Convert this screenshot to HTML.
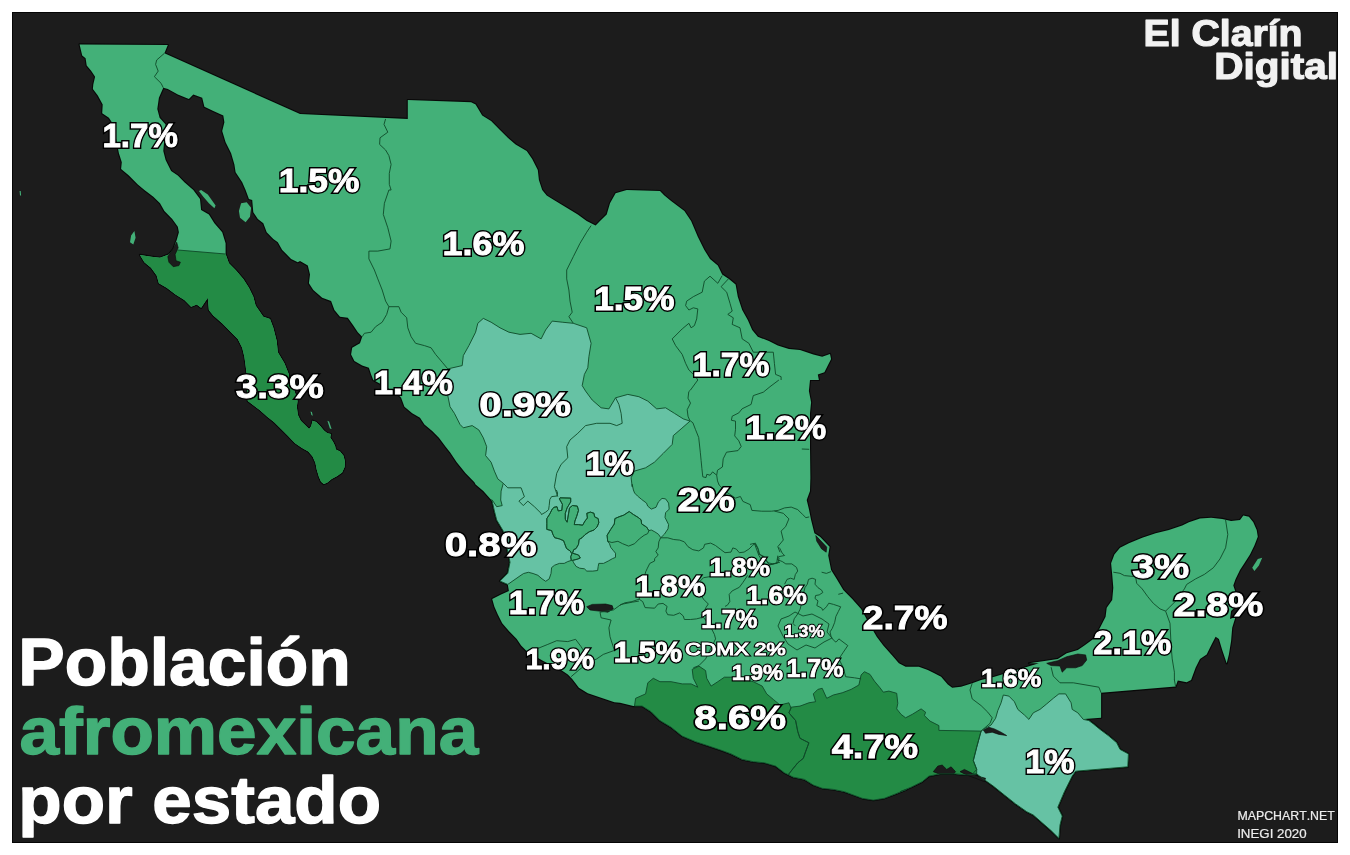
<!DOCTYPE html>
<html lang="es">
<head>
<meta charset="utf-8">
<title>Población afromexicana por estado</title>
<style>
html,body{margin:0;padding:0;background:#fff;}
body{width:1350px;height:855px;overflow:hidden;font-family:"Liberation Sans",Arial,Helvetica,sans-serif;}
svg{display:block;}
svg text{font-family:"Liberation Sans",Arial,Helvetica,sans-serif;font-weight:700;stroke-linejoin:round;font-kerning:none;}
.lb text{fill:#fff;stroke-linejoin:miter;stroke-miterlimit:2.5;}
</style>
</head>
<body>
<svg width="1350" height="855" viewBox="0 0 1350 855" role="img" aria-label="Población afromexicana por estado">
<rect x="12.5" y="12.5" width="1325" height="830" fill="#1c1c1c" stroke="#050505" stroke-width="1"/>
<g stroke-linejoin="round">
<path fill="none" stroke="#080808" stroke-width="2.2" d="M79.6,44.4 167.8,45.1 164.4,53.3 300,114 407.8,118.9 407.8,100 471.1,102.2 475.6,104.4 482.2,115.6 491.1,121.1 500,130 507.8,137.8 515.6,144.4 526.7,151.1 532.2,158.9 537.8,170 538.9,180 542.2,190 546.7,195.6 555.6,201.1 566.7,207.8 577.8,214.4 586.7,221.1 595.6,225.6 600,221.1 606.7,214.4 610,203.3 615.6,193.3 626.7,190 660,191.1 664.4,195.6 671.1,201.1 684.4,211.1 691.1,221.1 697.8,236.7 704.4,250 710,258.9 717.8,265.6 722.2,274.4 728.9,278.9 735.6,284.4 737.8,296.7 742.2,310 747.8,320 752.2,330 757.8,336.7 768.9,341.1 777.8,345.6 788.9,348.9 800,350 813.3,354.4 822.2,356.7 830,354 831.1,358.9 827.8,365.6 824.4,372.2 817.8,374.4 818.9,380 810,380 808.9,391.1 811.1,402.2 810,413.3 810,446.7 810.4,477.8 810,491.1 806.7,500 808.9,508.9 811.1,520 814.4,533.3 820,536.7 829.6,546.7 828.2,555.6 831.1,570 836.7,578.9 843.3,590 852.2,598.9 861.1,608.9 868.9,623.3 876.7,636.7 883.3,645.6 892.2,655.6 898.9,663.3 905.6,666.7 918.9,666.7 927.8,670 934.4,673.3 941.1,676.7 947.8,684.4 952.2,687.8 961.1,686.7 972.2,683.3 981.1,680 994.4,676.7 1016.7,670 1038.9,663.3 1028.9,663.3 1044.4,661.1 1057.8,658.9 1066.7,653.3 1077.8,650 1084.4,645.6 1093.3,638.9 1100,627.8 1105.6,616.7 1106.7,607.8 1112.2,600 1113.3,587.8 1112.2,574.4 1111.1,563.3 1114.4,554.4 1120,547.8 1128.9,543.3 1142.2,537.8 1155.6,533.3 1168.9,530 1182.2,525.6 1188.9,522.2 1200,518.4 1211.1,517.8 1222.2,518.9 1231.1,521.1 1240,520 1243.3,515.6 1248.9,516.7 1253.3,522.2 1256.7,530 1257.8,536.7 1254.4,545.6 1250,554.4 1244.4,563.3 1240,570 1235.6,578.9 1233.3,585.6 1235.6,592.2 1236.7,605.6 1231.1,611.1 1230,618.9 1235.6,616.7 1232.2,627.8 1231.1,641.1 1228.9,654.4 1226.7,663.3 1222.2,650 1218.9,638.9 1215.6,636.7 1211.1,645.6 1206.7,654.4 1200,658.9 1195.6,667.8 1191.1,680 1191.1,679.9 1186.7,682.3 1177.8,680.6 1175.6,686.6 1101.1,692.8 1101.1,717.7 1084.4,719 1088.9,720.6 1093.3,723.9 1100,729.4 1108.9,736.1 1116.7,742.8 1120,749.4 1128.4,753.9 1127.8,766.8 1075.6,771.2 1072.2,776.1 1064.4,791.7 1057.8,807.2 1062.2,816.1 1060,825 1058.9,838.3 1051.1,830.6 1042.2,822.8 1033.3,815 1026.7,811.7 1015.6,803.9 1004.4,795 993.3,786.1 985.6,780.6 976.7,773.9 966.7,775 955.6,773.9 940,773.9 928.9,776.1 922.2,781.7 911.1,787.2 900,791.7 906.7,789.4 895.6,793.9 884.4,798.3 873.3,800.1 862.2,798.3 853.3,795 844.4,791.7 833.3,789.4 822.2,788.3 813.3,785 804.4,779.4 793.3,777.2 784.4,772.8 775.6,766.1 764.4,762.8 753.3,761.7 742.2,759.4 731.1,753.9 722.2,750.6 708.9,746.1 695.6,741.7 682.2,736.1 671.1,727.2 660,720.6 651.1,711.7 642.2,706.1 633.3,706.1 620,702.8 614.4,702.2 601.1,697.8 587.8,693.3 578.9,687.8 572.2,678.9 567.8,674.4 561.1,670 543.3,661.1 527.8,652.2 521.1,645.6 516.7,638.9 508.9,631.1 502.2,623.3 497.8,614.4 494.4,606.7 492.2,598.9 501.1,594.4 508.9,591.1 507.8,584.4 500,581.1 507.8,573.3 510,562.2 506.7,546.7 503.3,531.1 496.7,520 494.4,511.1 492.2,501.1 483.3,491.1 475.6,484.4 474.4,482.2 465.6,473.3 456.7,462.2 450,452.2 445.6,446.7 438.9,437.8 432.2,431.1 424.4,424.4 420,417.8 412.2,413.3 404.4,406.7 401.1,397.8 396.7,393.3 383.3,385.6 373.3,380 371.1,374.4 368.9,367.8 362.2,365.6 354.4,361.1 351.1,354.4 352.2,347.8 360,343.3 362.2,336.7 357.8,332.2 353.3,325.6 347.8,317.8 340,316.7 334.4,310 331.1,301.1 322.2,297.8 313.3,290 308.9,283.3 310,274.4 307.8,265.6 300,261.1 297.8,262.2 291.1,258.9 282.2,250 277.8,242.2 273.3,238.9 266.7,232.2 263.3,223.3 257.8,218.9 253.3,212.2 252.2,200 248.9,198.9 245.6,190 242.2,182.2 235.6,172.2 234.4,164.4 231.1,153.3 225.6,142.2 222.2,131.1 224.4,122.2 223.3,115.6 213.3,111.1 204.4,106.7 202.2,97.8 193.3,94.4 188.9,98.9 177.8,94.4 167.8,88.9 163.3,87.8 158.9,97.8 157.3,108.9 159.6,117.8 165.6,124.4 163.3,151.1 165.6,160 171.1,171.1 177.8,175.6 184.4,182.2 193.3,190 200,198.9 201.1,210 208.9,214.4 214.4,223.3 222.2,232.2 225.6,243.3 225.6,254 228.9,263.3 235.6,270 243.3,278.9 248.9,287.8 253.3,296.7 255.6,305.6 263.3,316.7 270,318.9 273.3,327.8 276.7,341.1 277.8,352.2 284.4,363.3 288.9,374.4 288.9,380 294.4,390.5 297.6,401.1 296.8,406.7 297.9,415.1 300.7,420.7 306.3,426.3 309.1,429.1 311.2,426.3 312.6,420.7 316.1,422.1 320.4,426.3 323.9,430.5 327.4,433.3 330.9,434 330.2,437.5 333,441.8 335.1,446 335.8,449.5 340,451.6 343.5,455.8 344.9,461.4 344.6,467 342.1,472.6 337.2,476.1 331.6,478.9 327.4,482.5 323.9,484.1 321.1,481.8 318.9,476.8 316.8,469.8 315.4,462.8 312.6,456.5 308.4,451.6 302.1,448.1 295.1,443.2 288.1,436.1 281.1,429.1 274,422.1 267,416.5 260,410.2 247.8,401.1 247.1,380 246.7,374.4 245.6,365.6 244.4,356.7 242.2,347.8 237.8,338.9 231.1,332.2 222.2,323.3 213.3,315.6 208.9,310 207.8,297.8 201.1,307.8 196.7,304.4 191.1,306.7 184.4,300 175.6,294.4 166.7,287.8 158.9,283.3 156.7,275.6 151.1,267.8 144.4,262.2 140,254.9 151.1,256.7 160,257.8 168.9,254.4 173.3,248.9 176.7,240 178.9,232.2 177.8,226.7 172.2,218.9 164.4,211.1 160,203.3 153.3,196.7 144.4,190 137.8,184.4 128.9,175.6 121.1,168.9 121.8,162.2 118.9,153.3 113.3,124.4 108.9,117.8 102.2,113.3 102.7,104.4 97.8,95.6 92.9,88.9 93.3,84.4 95.1,76.7 91.1,70.7 86.7,65.6 85.6,58.2 82.2,55.6Z"/>
<path fill="#43b078" d="M20.7,191.1 19.6,191.1 20,195.6 21.1,195.6ZM208.9,203.3 214.4,208.2 215.6,205.6 207.8,194.4 201.1,190 198.9,191.1 203.3,196.7ZM245.6,222.2 250,216.7 251.1,207.8 246.7,202.2 241.1,203.3 238.9,211.1 240,217.8ZM134.4,231.1 131.1,235.6 130,242.2 133.3,244.4 135.6,237.8ZM311.9,412 310.5,411.6 311.4,415.1 312.8,415.8ZM329.1,421.4 327.4,420.7 329.9,428.4 331.6,429.1ZM86.7,65.6 91.1,70.7 95.1,76.7 93.3,84.4 92.9,88.9 97.8,95.6 102.7,104.4 102.2,113.3 108.9,117.8 113.3,124.4 118.9,153.3 121.8,162.2 121.1,168.9 128.9,175.6 137.8,184.4 144.4,190 153.3,196.7 160,203.3 164.4,211.1 172.2,218.9 177.8,226.7 178.9,232.2 176.7,240 173.3,248.9 168.9,254.4 160,257.8 151.1,256.7 140,254.9 144.4,262.2 151.1,267.8 156.7,275.6 158.9,283.3 166.7,287.8 175.6,294.4 184.4,300 191.1,306.7 196.7,304.4 201.1,307.8 207.8,297.8 208.9,310 213.3,315.6 222.2,323.3 231.1,332.2 237.8,338.9 242.2,347.8 244.4,356.7 245.6,365.6 246.7,374.4 247.1,380 247.8,401.1 260,410.2 267,416.5 274,422.1 281.1,429.1 288.1,436.1 295.1,443.2 302.1,448.1 308.4,451.6 312.6,456.5 315.4,462.8 316.8,469.8 318.9,476.8 321.1,481.8 323.9,484.1 327.4,482.5 331.6,478.9 337.2,476.1 342.1,472.6 344.6,467 344.9,461.4 343.5,455.8 340,451.6 335.8,449.5 335.1,446 333,441.8 330.2,437.5 330.9,434 327.4,433.3 323.9,430.5 320.4,426.3 316.1,422.1 312.6,420.7 311.2,426.3 309.1,429.1 306.3,426.3 300.7,420.7 297.9,415.1 296.8,406.7 297.6,401.1 294.4,390.5 288.9,380 288.9,374.4 284.4,363.3 277.8,352.2 276.7,341.1 273.3,327.8 270,318.9 263.3,316.7 255.6,305.6 253.3,296.7 248.9,287.8 243.3,278.9 235.6,270 228.9,263.3 225.6,254 225.6,243.3 222.2,232.2 214.4,223.3 208.9,214.4 201.1,210 200,198.9 193.3,190 184.4,182.2 177.8,175.6 171.1,171.1 165.6,160 163.3,151.1 165.6,124.4 159.6,117.8 157.3,108.9 158.9,97.8 163.3,87.8 167.8,88.9 177.8,94.4 188.9,98.9 193.3,94.4 202.2,97.8 204.4,106.7 213.3,111.1 223.3,115.6 224.4,122.2 222.2,131.1 225.6,142.2 231.1,153.3 234.4,164.4 235.6,172.2 242.2,182.2 245.6,190 248.9,198.9 252.2,200 253.3,212.2 257.8,218.9 263.3,223.3 266.7,232.2 273.3,238.9 277.8,242.2 282.2,250 291.1,258.9 297.8,262.2 300,261.1 307.8,265.6 310,274.4 308.9,283.3 313.3,290 322.2,297.8 331.1,301.1 334.4,310 340,316.7 347.8,317.8 353.3,325.6 357.8,332.2 362.2,336.7 360,343.3 352.2,347.8 351.1,354.4 354.4,361.1 362.2,365.6 368.9,367.8 371.1,374.4 373.3,380 383.3,385.6 396.7,393.3 401.1,397.8 404.4,406.7 412.2,413.3 420,417.8 424.4,424.4 432.2,431.1 438.9,437.8 445.6,446.7 450,452.2 456.7,462.2 465.6,473.3 474.4,482.2 475.6,484.4 483.3,491.1 492.2,501.1 494.4,511.1 496.7,520 503.3,531.1 506.7,546.7 510,562.2 507.8,573.3 500,581.1 507.8,584.4 508.9,591.1 501.1,594.4 492.2,598.9 494.4,606.7 497.8,614.4 502.2,623.3 508.9,631.1 516.7,638.9 521.1,645.6 527.8,652.2 543.3,661.1 561.1,670 567.8,674.4 572.2,678.9 578.9,687.8 587.8,693.3 601.1,697.8 614.4,702.2 620,702.8 633.3,706.1 642.2,706.1 651.1,711.7 660,720.6 671.1,727.2 682.2,736.1 695.6,741.7 708.9,746.1 722.2,750.6 731.1,753.9 742.2,759.4 753.3,761.7 764.4,762.8 775.6,766.1 784.4,772.8 793.3,777.2 804.4,779.4 813.3,785 822.2,788.3 833.3,789.4 844.4,791.7 853.3,795 862.2,798.3 873.3,800.1 884.4,798.3 895.6,793.9 906.7,789.4 900,791.7 911.1,787.2 922.2,781.7 928.9,776.1 940,773.9 955.6,773.9 966.7,775 976.7,773.9 985.6,780.6 993.3,786.1 1004.4,795 1015.6,803.9 1026.7,811.7 1033.3,815 1042.2,822.8 1051.1,830.6 1058.9,838.3 1060,825 1062.2,816.1 1057.8,807.2 1064.4,791.7 1072.2,776.1 1075.6,771.2 1127.8,766.8 1128.4,753.9 1120,749.4 1116.7,742.8 1108.9,736.1 1100,729.4 1093.3,723.9 1088.9,720.6 1084.4,719 1101.1,717.7 1101.1,692.8 1175.6,686.6 1177.8,680.6 1186.7,682.3 1191.1,679.9 1191.1,680 1195.6,667.8 1200,658.9 1206.7,654.4 1211.1,645.6 1215.6,636.7 1218.9,638.9 1222.2,650 1226.7,663.3 1228.9,654.4 1231.1,641.1 1232.2,627.8 1235.6,616.7 1230,618.9 1231.1,611.1 1236.7,605.6 1235.6,592.2 1233.3,585.6 1235.6,578.9 1240,570 1244.4,563.3 1250,554.4 1254.4,545.6 1257.8,536.7 1256.7,530 1253.3,522.2 1248.9,516.7 1243.3,515.6 1240,520 1231.1,521.1 1222.2,518.9 1211.1,517.8 1200,518.4 1188.9,522.2 1182.2,525.6 1168.9,530 1155.6,533.3 1142.2,537.8 1128.9,543.3 1120,547.8 1114.4,554.4 1111.1,563.3 1112.2,574.4 1113.3,587.8 1112.2,600 1106.7,607.8 1105.6,616.7 1100,627.8 1093.3,638.9 1084.4,645.6 1077.8,650 1066.7,653.3 1057.8,658.9 1044.4,661.1 1028.9,663.3 1038.9,663.3 1016.7,670 994.4,676.7 981.1,680 972.2,683.3 961.1,686.7 952.2,687.8 947.8,684.4 941.1,676.7 934.4,673.3 927.8,670 918.9,666.7 905.6,666.7 898.9,663.3 892.2,655.6 883.3,645.6 876.7,636.7 868.9,623.3 861.1,608.9 852.2,598.9 843.3,590 836.7,578.9 831.1,570 828.2,555.6 829.6,546.7 820,536.7 814.4,533.3 811.1,520 808.9,508.9 806.7,500 810,491.1 810.4,477.8 810,446.7 810,413.3 811.1,402.2 808.9,391.1 810,380 818.9,380 817.8,374.4 824.4,372.2 827.8,365.6 831.1,358.9 830,354 822.2,356.7 813.3,354.4 800,350 788.9,348.9 777.8,345.6 768.9,341.1 757.8,336.7 752.2,330 747.8,320 742.2,310 737.8,296.7 735.6,284.4 728.9,278.9 722.2,274.4 717.8,265.6 710,258.9 704.4,250 697.8,236.7 691.1,221.1 684.4,211.1 671.1,201.1 664.4,195.6 660,191.1 626.7,190 615.6,193.3 610,203.3 606.7,214.4 600,221.1 595.6,225.6 586.7,221.1 577.8,214.4 566.7,207.8 555.6,201.1 546.7,195.6 542.2,190 538.9,180 537.8,170 532.2,158.9 526.7,151.1 515.6,144.4 507.8,137.8 500,130 491.1,121.1 482.2,115.6 475.6,104.4 471.1,102.2 407.8,100 407.8,118.9 300,114 164.4,53.3 167.8,45.1 79.6,44.4 82.2,55.6 85.6,58.2ZM1262.2,557.8 1257.8,558.9 1252.2,567.8 1254.4,571.1 1258.9,565.6Z"/>
<path fill="#66c2a4" d="M533.1,573.5 537.9,575.3 542.1,578.9 545.7,581.3 549.2,578.9 551,573.5 551.6,567.6 554.6,565.2 559.4,563.4 564.2,563.4 567.7,561.6 571.3,560.4 570.7,556.8 571.9,553.8 570.1,550.9 566.5,548.5 564.7,543.7 563.6,540.7 559.4,538.9 554.6,537.7 552.8,534.2 551.6,530.6 546.8,529.4 546.8,523.4 546.8,518.6 549.8,513.9 552.2,509.1 554,507.3 557,506.7 558.2,510.9 561.8,510.3 562.4,504.3 559.4,498.9 560,497.8 570.7,498.1 570.7,501.9 567.1,507.9 565.3,513.3 565.3,519.2 567.1,522.2 568.3,515.1 569.5,507.9 572.5,505.5 577.3,506.1 578.5,510.3 576.7,516.3 574.9,521 574.3,524.6 578.5,524.6 582.6,525.2 585,521 587.4,518 586.8,513.3 590.4,512.1 594,513.3 594.6,516.8 598.2,518.6 598.8,522.8 597,527 594,530 589.2,531.8 585,534.7 582.1,537.7 579.1,539.5 578.5,544.3 576.1,548.5 573.7,549.7 572.5,553.2 578.5,555 580.3,558 577.3,559.2 572.5,560.4 573.7,562.8 576.1,566.4 579.7,568.2 584.4,568.8 586.8,571.1 592.8,571.1 597.6,570.5 598.2,566.4 598.8,563.4 603.5,563.4 608.3,561 612.5,558.6 615.5,557.4 615.5,553.2 613.1,550.3 610.7,547.3 609.5,543.7 607.7,541.3 607.1,535.3 610.7,529.4 614.3,524 614.9,518.6 619,516.8 623.8,515.1 629.2,511.5 633.4,514.5 638.1,517.4 641.1,519.8 641.7,524 646.5,527 648.9,530.6 651.3,530 654.8,531.8 658.4,534.2 660.8,537.7 664.4,534.2 668,528.8 668.6,524.6 665,517.4 665.6,512.7 669.2,509.1 668.6,503.1 665.6,498.9 662,498.4 658.4,501.9 656,507.3 651.3,509.1 647.7,506.1 646.5,503.1 641.7,499.5 637.5,496 634.6,493 633.4,490 632.2,484.4 632.2,486.7 631.1,477.8 634.4,471.1 645.6,467.8 654.4,462.2 663.3,453.3 672.2,444.4 673.3,435.6 681.1,428.9 690,421.1 683.3,418.9 674.4,413.3 665.6,407.8 656.7,408.9 647.8,401.1 638.9,396.7 627.8,394.4 615.6,397.8 608.9,408.9 601.1,407.8 592.2,400 585.6,391.1 582.2,385.6 584.4,374.4 587.8,367.8 588.9,356.7 591.1,343.3 586.7,327.8 573.3,323.3 562.2,322.2 552.2,321.1 545.6,330 541.1,338.9 531.1,333.3 520,334.4 508.9,332.2 500,327.8 491.1,322.2 483.3,318.4 477.8,323.3 475.6,332.2 468.9,345.6 463.3,355.6 462.2,365.6 447.8,368.9 444.4,380 447.8,395.6 450,406.7 454.4,413.3 460,424.4 463.3,427.8 472.2,425.6 478.9,430 483.3,437.8 486.7,446.7 485.6,455.6 491.1,462.2 494.4,471.1 497.8,478.9 503.3,483.3 501.1,491.1 500.7,500 502.2,505.6 496.7,506.7 492.2,500 491.1,499.9 492.2,501.1 494.4,511.1 496.7,520 503.3,531.1 506.7,546.7 510,562.2 507.8,573.3 500,581.1 507.8,584.4 520,575.9 523.6,573.5 528.4,572.3ZM1077.8,712.8 1072.2,709.4 1071.1,702.8 1065.6,693.9 1058.9,693.9 1053.3,698.3 1046.7,703.9 1040,709.4 1033.3,712.8 1028.9,719.4 1024.4,715 1017.8,709.4 1014.4,701.7 1008.9,696.1 1003.3,695 1001.1,702.8 997.8,710.6 995.6,718.3 991.1,725 983.3,729.4 981.1,731 976.7,747.2 973.3,760.6 976.7,769.4 972.2,774.4 976.7,773.9 985.6,780.6 993.3,786.1 1004.4,795 1015.6,803.9 1026.7,811.7 1033.3,815 1042.2,822.8 1051.1,830.6 1058.9,838.3 1060,825 1062.2,816.1 1057.8,807.2 1064.4,791.7 1072.2,776.1 1075.6,771.2 1127.8,766.8 1128.4,753.9 1120,749.4 1116.7,742.8 1108.9,736.1 1100,729.4 1093.3,723.9 1088.9,720.6 1083.3,719.4Z"/>
<path fill="#238b45" d="M160,257.8 151.1,256.7 140,254.9 144.4,262.2 151.1,267.8 156.7,275.6 158.9,283.3 166.7,287.8 175.6,294.4 184.4,300 191.1,306.7 196.7,304.4 201.1,307.8 207.8,297.8 208.9,310 213.3,315.6 222.2,323.3 231.1,332.2 237.8,338.9 242.2,347.8 244.4,356.7 245.6,365.6 246.7,374.4 247.1,380 247.8,401.1 260,410.2 267,416.5 274,422.1 281.1,429.1 288.1,436.1 295.1,443.2 302.1,448.1 308.4,451.6 312.6,456.5 315.4,462.8 316.8,469.8 318.9,476.8 321.1,481.8 323.9,484.1 327.4,482.5 331.6,478.9 337.2,476.1 342.1,472.6 344.6,467 344.9,461.4 343.5,455.8 340,451.6 335.8,449.5 335.1,446 333,441.8 330.2,437.5 330.9,434 327.4,433.3 323.9,430.5 320.4,426.3 316.1,422.1 312.6,420.7 311.2,426.3 309.1,429.1 306.3,426.3 300.7,420.7 297.9,415.1 296.8,406.7 297.6,401.1 294.4,390.5 288.9,380 288.9,374.4 284.4,363.3 277.8,352.2 276.7,341.1 273.3,327.8 270,318.9 263.3,316.7 255.6,305.6 253.3,296.7 248.9,287.8 243.3,278.9 235.6,270 228.9,263.3 225.6,254 225.6,253.9 172.9,249.4 168.9,254.4ZM780,705 773.3,699.4 766.7,693.9 762.2,686.1 753.3,681.7 733.3,677.2 724.4,677.2 717.8,681.7 711.1,686.1 706.7,678.3 705.6,670.6 698.9,666.1 692.2,669.4 693.3,678.3 697.8,687.2 691.1,683.9 682.2,683.9 671.1,681.7 660,681.7 653.3,678.3 647.8,682.8 645.6,693.9 635.6,698.3 634.5,706.1 642.2,706.1 651.1,711.7 660,720.6 671.1,727.2 682.2,736.1 695.6,741.7 708.9,746.1 722.2,750.6 731.1,753.9 742.2,759.4 753.3,761.7 764.4,762.8 775.6,766.1 784.4,772.8 788.9,775 793.3,777.2 804.4,779.4 813.3,785 822.2,788.3 833.3,789.4 844.4,791.7 853.3,795 862.2,798.3 873.3,800.1 884.4,798.3 895.6,793.9 906.7,789.4 900,791.7 911.1,787.2 922.2,781.7 928.9,776.1 940,773.9 955.6,773.9 966.7,775 976.7,773.9 976.7,769.4 973.3,760.6 976.7,747.2 981.1,731.1 938.9,730.4 938.9,725.6 930,721.1 924.4,715.6 925.6,712.2 921.1,708.9 912.2,714.4 905.6,717.8 901.1,714.4 896.7,708.9 897.8,703.3 896.7,693.3 888.9,691.1 883.3,692.2 880,687.8 874.4,681.1 870,674.4 864.4,671.7 861.1,675 858.9,685 851.1,689.4 842.2,692.8 833.3,695 826.7,698.3 822.2,688.3 817.8,689.4 813.3,693.9 815.6,701.7 808.9,702.8 800,706.1 791.1,707.2 790.9,707.8 788.9,702.8Z"/>
<path fill="#1c1c1c" stroke="#080808" stroke-width="0.6" d="M167.8,256.7 172.2,250 176.7,242.2 178.2,247.8 175.1,254.4 176,260.7 180.4,262.2 178.9,265.6 173.3,266.7 168.9,262.2ZM586.7,606.7 592.2,604.4 605.6,604 612.2,605.6 613.3,608.9 607.8,612.2 598.9,611.1 590,610ZM1046.7,663.3 1057.8,660.7 1066.7,656.7 1077.8,654 1085.6,654.9 1086.7,660 1082.2,665.6 1075.6,667.8 1066.7,667.8 1062.2,672.2 1060,666 1051.1,665.6ZM983.3,730 988.9,727.3 994.4,728.9 1001.1,732.2 1006.7,735.6 998.9,734.4 992.2,732.2 985.6,733.3ZM933.3,771.7 937.8,766.1 942.2,765 946.7,769.4 951.1,766.8 955.6,771.7 953.3,774.3 940,774.3ZM960,771.7 964.4,769.4 971.1,772.8 977.8,776.1 985.6,778.3 984.4,781.7 975.6,778.3 966.7,775ZM815.8,535.6 826.7,547.1 826.2,552.2 821.6,548.9 816.7,541.1Z"/>
<path fill="none" stroke="#0f4a28" stroke-width="0.9" d="M164.4,53.3 156.7,60 155.6,64.4 158.2,71.1 154.4,76.7 161.1,83.3 163.3,87.8M177.8,250 225.6,254M385.6,118.9 384,124.4 387.8,132.2 380,137.8 379.6,144.4 385.6,150 388.9,155.6 391.1,164.4 389.3,173.3 389.3,184.4 391.1,190 388.9,190 384.4,203.3 383.3,214.4 387.8,227.8 391.1,241.1 390,248.9 377.8,251.1 368.9,251.1 368.9,258.9 374.4,270 377.8,278.9 382.2,290 385.6,301.1 388.9,306.7M388.9,306.7 386.7,314.4 382.2,322.2 375.6,326.7 371.1,332.2 364.4,333.3 362.2,336.7M388.9,306.7 398.9,306.7 401.1,312.2 406.7,317.8 407.8,327.8 411.1,336.7 415.6,343.3 424.4,345.6 431.1,347.8 435.6,354.4 442.2,362.2 447.8,368.9M591.1,225.6 586.7,232.2 580,243.3 573.3,256.7 566.7,270 566.7,278.9 568.9,290 570,301.1 572.2,312.2 568.9,316.7 573.3,323.3M722.2,275.6 717.8,283.3 710,276.2 704.4,281.1 702.2,292.2 693.3,296.7 686.7,301.1 685.6,305.6 688.9,310 693.3,307.8 697.8,308.9 696.7,318.9 694.4,325.6 691.1,327.8 688.9,323.3 682.2,328.9 672.2,338.9 675.6,345.6 682.2,354.4 685.6,363.3 688.9,370 695.6,376.7 697.8,380M728.4,278.9 721.1,286.7 726.7,292.2 730,303.3 732.2,311.1 727.8,314.4 733.3,317.8 732.2,324.4 740,327.8 742.2,338.9 748.9,343.3 753.3,352.2 773.3,352.2 774.4,363.3 775.6,374.4 781.1,376.7 781.1,380M615.6,397.8 618.9,404.4 621.1,413.3 622.2,423.3 616.7,425.6 610,423.3 596.7,423.3 585.6,425.6 577.8,433.3 570,440 566.7,446.7 567.8,457.8 561.1,464.4 556.7,473.3 554.4,486.7 557.8,496.7M503.3,483.3 507.8,487.8 521.1,487.8 524.4,496.7 518.9,501.1 523.3,505.6 527.8,501.1 534.4,506.7 541.1,513.3 541.5,514.5 545.7,512.1 548.6,509.7 549.2,505.5 549.8,499.5 551.6,496.6 557,496 557.6,493 556.4,490M1113.3,572.2 1120,573.3 1124.4,575.6 1135.6,576.7 1136.7,583.3 1142.2,588.9 1147.8,596.7 1153.3,603.3 1160,608.9 1165.6,611.1M1225.6,520 1227.8,534.4 1225.6,547.8 1220,558.9 1213.3,567.8 1204.4,574.4 1195.6,578.9 1186.7,584.4 1184.4,588.9 1175.6,601.1 1168.9,607.8 1165.6,611.1M1165.6,611.1 1170,623.3 1171.1,645.6 1172.2,658.9 1174.4,672.2 1174.4,680 1174.4,679.9 1175.6,686.6M774.4,511.1 783.3,513.3 788.9,518.9 785.6,526.7 781.1,531.1 783.3,540 777.8,546.7 780,552.2M836,642.2 838.9,638.9 847.8,645.6 843.3,652.2 838.9,658.9 843.3,667.8 845.6,676.7 854.4,677.8 861.1,678.9M972.2,683.3 970,690 972.2,698.9 981.1,705.6 987.8,712.2 992.2,717.8 990,723.3 981.1,731.1M1051.1,667.2 1053.3,676.1 1060,682.8 1073.3,682.8 1098.9,687.2 1101.1,692.8M571.1,676.7 578.9,670 587.8,663.3 596.7,658.9 603.3,654.4 614.4,650.4 610,636.7 608.9,627.8 611.1,620 601.1,617.8 600,612.2 613.3,610 621.1,604.4 632.2,602.2 638.9,601.1M527.8,652.2 536.7,648.9 547.8,644.4 556.7,640.7 567.8,641.6 575.6,639.3 581.1,646.7 586.7,655.6 592.2,658.9M701.1,614.4 710,625.6 714.4,634.4 715.6,638.9 712.2,645.6 705.6,658.9 698.9,665.6 693.3,667.8M660.6,537.8 667.7,537.8 673.7,539.5 679.7,540.1 684.4,541.9 688,546.7 692.8,549.7 698.8,550.9 703.5,547.9 704.7,544.3 710.7,543.1 715.5,545.5 720.2,549.1 725,552.7 731,552.1 732.8,547.9 736.3,549.1 739.3,552.7 744.1,552.1 748.9,549.1 752.5,545.5 755.4,543.1 757.8,547.9 759,553.9 763.2,556.8 766.8,561.6 769.2,564.6 775.1,563.4 780,562.2M660.6,537.8 658.8,541.9 658.2,547.9 655.8,551.5 658.2,555.1 654.6,558.6 654.6,561 649.8,563.4 647.4,568.2 645.7,571.8 642.7,583.7 640.3,594.4 639.1,599.2 631.9,601.6 624.8,602.8 620,605.2M639.1,599.2 642.7,601.6 645.1,607.6 654.6,608.2 658.2,604 663,603.4 667.1,606.4 665.9,611.1 667.7,614.7 673.7,615.3 679.7,612.9 683.2,615.9 684.4,619.5 690.4,619.5 696.4,618.9 701.1,617.7M747.7,575.3 742.9,582.5 739.3,587.3 732.2,590.9 729.2,594.4 729.8,601.6 727.4,605.2 725,606.4M701.1,617.7 705.9,607.6 708.3,604 703.5,599.2 700,593.2 698.8,582.5 703.5,577.7 710.7,576.5M778.6,547.2 779.8,548.4 782.2,553.1 784.6,555.5 778.6,556.7 777.4,559.7 782.2,561.5 785.8,563.9 791.8,563.9 796.5,567.4 797.7,571 795.3,574.6 794.2,579.4 790.6,578.2 787,579.4 784.6,584.2M754.8,543.6 758.4,549.5 759.5,554.3 764.3,556.7 767.9,562.7 772.7,563.9 778,562.7 779.2,557.9M808.5,579.4 812.1,578.2 815.6,579.4 815,584.2 818,587.7 821.6,590.1 822.8,592.5 819.2,594.9 815.6,595.5 815,598.5 818,600.9 816.8,605.6 821.6,608 822.8,610.4 826.4,606.8 828.8,603.2 833.5,604.4 840.7,606.8 838.3,611.6 835.9,616.4 834.7,622.3 832.3,628.3 830,631.9 831.1,636.7 833.5,640.2 835.9,642M808.5,579.4 807.3,584.2 804.9,587.7 803.7,592.5 802.5,597.3 801.3,604.4 800.1,609.2 797.7,614 794.2,618.8 793,623.5 795.3,625.9M821.6,572.2 826.4,573.4 831.1,571.6M838.3,594.3 843.1,593.1M778,626 781,619 789,616 795,612 803,616 812,614 822,619 829,624 827,632 832,638 824,642 815,648 806,645 797,650 788,644 783,636 778,626M778.9,380 770,386.7 763.3,392.2 753.3,395.6 751.1,404.4 742.1,408.8 738.8,412.9 732.2,416.2 731.4,420.3 735.5,421.1 735.5,429.3 734.7,435.9 738.8,440.8 741.2,446.5 738,450.6 726.5,452.2 723.2,458.8 722.4,467 717.5,470.2 716.7,475.2M697.8,380 690.5,390 688.8,391.6 688,398.2 690.5,403.1 687.2,409.7 688,416.2 689.7,420.3 692.9,422.8 695.4,429.3 698.7,437.5 700.3,452.2 701.1,460.4 701.9,468.6 702.8,476.8 706,477.6 706.8,474.3 710.1,475.2 712.6,471.9 716.7,475.2M716.7,475.2 717.5,480.9 719.1,485 725.7,491.5 735.5,498.1 740.4,496.5 742.9,501.4 750.2,504.6 751.9,510.4 761.7,511.2 771.5,511.2 778.1,510.4 784.6,507.9 791.2,507.1 797.7,509.6 802.7,514.5 805.9,517.7 809.2,516.9M801.8,449 809.2,449.3M750,544.4 754.4,543.3 758.9,555.6 763.3,562.2 766.7,565.6 776.7,563.3 777.8,555.6M528.4,572.3 533.1,573.5 537.9,575.3 542.1,578.9 545.7,581.3 549.2,578.9 551,573.5 551.6,567.6 554.6,565.2 559.4,563.4 564.2,563.4 567.7,561.6 571.3,560.4 570.7,556.8 571.9,553.8 570.1,550.9 566.5,548.5 564.7,543.7 563.6,540.7 559.4,538.9 554.6,537.7 552.8,534.2 551.6,530.6 546.8,529.4 546.8,523.4 546.8,518.6 549.8,513.9 552.2,509.1 554,507.3 557,506.7 558.2,510.9 561.8,510.3 562.4,504.3 559.4,498.9 560,497.8 570.7,498.1 570.7,501.9 567.1,507.9 565.3,513.3 565.3,519.2 567.1,522.2 568.3,515.1 569.5,507.9 572.5,505.5 577.3,506.1 578.5,510.3 576.7,516.3 574.9,521 574.3,524.6 578.5,524.6 582.6,525.2 585,521 587.4,518 586.8,513.3 590.4,512.1 594,513.3 594.6,516.8 598.2,518.6 598.8,522.8 597,527 594,530 589.2,531.8 585,534.7 582.1,537.7 579.1,539.5 578.5,544.3 576.1,548.5 573.7,549.7 572.5,553.2 578.5,555 580.3,558 577.3,559.2 572.5,560.4 573.7,562.8 576.1,566.4 579.7,568.2 584.4,568.8 586.8,571.1 592.8,571.1 597.6,570.5 598.2,566.4 598.8,563.4 603.5,563.4 608.3,561 612.5,558.6 615.5,557.4 615.5,553.2 613.1,550.3 610.7,547.3 609.5,543.7 607.7,541.3 607.1,535.3 610.7,529.4 614.3,524 614.9,518.6 619,516.8 623.8,515.1 629.2,511.5 633.4,514.5 638.1,517.4 641.1,519.8 641.7,524 646.5,527 648.9,530.6 651.3,530 654.8,531.8 658.4,534.2 660.8,537.7 664.4,534.2 668,528.8 668.6,524.6 665,517.4 665.6,512.7 669.2,509.1 668.6,503.1 665.6,498.9 662,498.4 658.4,501.9 656,507.3 651.3,509.1 647.7,506.1 646.5,503.1 641.7,499.5 637.5,496 634.6,493 633.4,490 632.2,484.4 632.2,486.7 631.1,477.8 634.4,471.1 645.6,467.8 654.4,462.2 663.3,453.3 672.2,444.4 673.3,435.6 681.1,428.9 690,421.1 683.3,418.9 674.4,413.3 665.6,407.8 656.7,408.9 647.8,401.1 638.9,396.7 627.8,394.4 615.6,397.8 608.9,408.9 601.1,407.8 592.2,400 585.6,391.1 582.2,385.6 584.4,374.4 587.8,367.8 588.9,356.7 591.1,343.3 586.7,327.8 573.3,323.3 562.2,322.2 552.2,321.1 545.6,330 541.1,338.9 531.1,333.3 520,334.4 508.9,332.2 500,327.8 491.1,322.2 483.3,318.4 477.8,323.3 475.6,332.2 468.9,345.6 463.3,355.6 462.2,365.6 447.8,368.9 444.4,380 447.8,395.6 450,406.7 454.4,413.3 460,424.4 463.3,427.8 472.2,425.6 478.9,430 483.3,437.8 486.7,446.7 485.6,455.6 491.1,462.2 494.4,471.1 497.8,478.9 503.3,483.3 501.1,491.1 500.7,500 502.2,505.6 496.7,506.7 492.2,500 491.1,499.9 492.2,501.1 494.4,511.1 496.7,520 503.3,531.1 506.7,546.7 510,562.2 507.8,573.3 500,581.1 507.8,584.4 520,575.9 523.6,573.5ZM1083.3,719.4 1077.8,712.8 1072.2,709.4 1071.1,702.8 1065.6,693.9 1058.9,693.9 1053.3,698.3 1046.7,703.9 1040,709.4 1033.3,712.8 1028.9,719.4 1024.4,715 1017.8,709.4 1014.4,701.7 1008.9,696.1 1003.3,695 1001.1,702.8 997.8,710.6 995.6,718.3 991.1,725 983.3,729.4 981.1,731 976.7,747.2 973.3,760.6 976.7,769.4 972.2,774.4 976.7,773.9 985.6,780.6 993.3,786.1 1004.4,795 1015.6,803.9 1026.7,811.7 1033.3,815 1042.2,822.8 1051.1,830.6 1058.9,838.3 1060,825 1062.2,816.1 1057.8,807.2 1064.4,791.7 1072.2,776.1 1075.6,771.2 1127.8,766.8 1128.4,753.9 1120,749.4 1116.7,742.8 1108.9,736.1 1100,729.4 1093.3,723.9 1088.9,720.6ZM788.9,773.9 793.3,768.3 797.8,762.8 803.3,758.3 805.6,751.7 808.9,742.8 800,738.3 797.8,731.7 795.6,720.6 788.9,712.8 791.1,708.3 788.9,702.8 780,705 773.3,699.4 766.7,693.9 762.2,686.1 753.3,681.7 733.3,677.2 724.4,677.2 717.8,681.7 711.1,686.1 706.7,678.3 705.6,670.6 698.9,666.1 692.2,669.4 693.3,678.3 697.8,687.2 691.1,683.9 682.2,683.9 671.1,681.7 660,681.7 653.3,678.3 647.8,682.8 645.6,693.9 635.6,698.3 634.5,706.1 642.2,706.1 651.1,711.7 660,720.6 671.1,727.2 682.2,736.1 695.6,741.7 708.9,746.1 722.2,750.6 731.1,753.9 742.2,759.4 753.3,761.7 764.4,762.8 775.6,766.1 784.4,772.8 788.9,775ZM976.7,769.4 973.3,760.6 976.7,747.2 981.1,731.1 938.9,730.4 938.9,725.6 930,721.1 924.4,715.6 925.6,712.2 921.1,708.9 912.2,714.4 905.6,717.8 901.1,714.4 896.7,708.9 897.8,703.3 896.7,693.3 888.9,691.1 883.3,692.2 880,687.8 874.4,681.1 870,674.4 864.4,671.7 861.1,675 858.9,685 851.1,689.4 842.2,692.8 833.3,695 826.7,698.3 822.2,688.3 817.8,689.4 813.3,693.9 815.6,701.7 808.9,702.8 800,706.1 791.1,707.2 788.9,712.8 795.6,720.6 797.8,731.7 800,738.3 808.9,742.8 805.6,751.7 803.3,758.3 797.8,762.8 793.3,768.3 788.9,773.9 788.9,775 793.3,777.2 804.4,779.4 813.3,785 822.2,788.3 833.3,789.4 844.4,791.7 853.3,795 862.2,798.3 873.3,800.1 884.4,798.3 895.6,793.9 906.7,789.4 900,791.7 911.1,787.2 922.2,781.7 928.9,776.1 940,773.9 955.6,773.9 966.7,775 976.7,773.9ZM546.8,523.4 546.8,518.6 549.8,513.9 552.2,509.1 554,507.3 557,506.7 558.2,510.9 561.8,510.3 562.4,504.3 559.4,498.9 560,497.8 570.7,498.1 570.7,501.9 567.1,507.9 565.3,513.3 565.3,519.2 567.1,522.2 568.3,515.1 569.5,507.9 572.5,505.5 577.3,506.1 578.5,510.3 576.7,516.3 574.9,521 574.3,524.6 578.5,524.6 582.6,525.2 585,521 587.4,518 586.8,513.3 590.4,512.1 594,513.3 594.6,516.8 598.2,518.6 598.8,522.8 597,527 594,530 589.2,531.8 585,534.7 582.1,537.7 579.1,539.5 578.5,544.3 576.1,548.5 573.7,549.7 572.5,553.2 578.5,555 580.3,558 577.3,559.2 572.5,560.4 571.3,560.4 570.7,556.8 571.9,553.8 570.1,550.9 566.5,548.5 564.7,543.7 563.6,540.7 559.4,538.9 554.6,537.7 552.8,534.2 551.6,530.6 546.8,529.4ZM607.7,541.3 607.1,535.3 610.7,529.4 614.3,524 614.9,518.6 619,516.8 623.8,515.1 629.2,511.5 633.4,514.5 638.1,517.4 641.1,519.8 641.7,524 646.5,527 648.9,530.6 647.7,533.6 644.1,535.3 639.3,538.9 634.6,543.7 628.6,546.1 622.6,543.7 617.9,541.3 611.9,542.5Z"/>
</g>
<g class="lb">
<text transform="translate(102.41 147.40) scale(0.9734 1)" font-size="34.01" stroke="#000" stroke-width="3.80" aria-hidden="true">1.7%</text><text transform="translate(102.41 147.40) scale(0.9734 1)" font-size="34.01" stroke="#fff" stroke-width="0.90">1.7%</text>
<text transform="translate(278.77 192.40) scale(1.0405 1)" font-size="34.01" stroke="#000" stroke-width="3.80" aria-hidden="true">1.5%</text><text transform="translate(278.77 192.40) scale(1.0405 1)" font-size="34.01" stroke="#fff" stroke-width="0.90">1.5%</text>
<text transform="translate(442.43 254.50) scale(1.0579 1)" font-size="34.01" stroke="#000" stroke-width="3.80" aria-hidden="true">1.6%</text><text transform="translate(442.43 254.50) scale(1.0579 1)" font-size="34.01" stroke="#fff" stroke-width="0.90">1.6%</text>
<text transform="translate(594.29 310.20) scale(1.0338 1)" font-size="34.01" stroke="#000" stroke-width="3.80" aria-hidden="true">1.5%</text><text transform="translate(594.29 310.20) scale(1.0338 1)" font-size="34.01" stroke="#fff" stroke-width="0.90">1.5%</text>
<text transform="translate(692.78 375.80) scale(0.9881 1)" font-size="34.01" stroke="#000" stroke-width="3.80" aria-hidden="true">1.7%</text><text transform="translate(692.78 375.80) scale(0.9881 1)" font-size="34.01" stroke="#fff" stroke-width="0.90">1.7%</text>
<text transform="translate(745.37 438.80) scale(1.0432 1)" font-size="34.01" stroke="#000" stroke-width="3.80" aria-hidden="true">1.2%</text><text transform="translate(745.37 438.80) scale(1.0432 1)" font-size="34.01" stroke="#fff" stroke-width="0.90">1.2%</text>
<text transform="translate(235.81 397.70) scale(1.1339 1)" font-size="34.01" stroke="#000" stroke-width="3.80" aria-hidden="true">3.3%</text><text transform="translate(235.81 397.70) scale(1.1339 1)" font-size="34.01" stroke="#fff" stroke-width="0.90">3.3%</text>
<text transform="translate(373.71 394.00) scale(1.0230 1)" font-size="34.01" stroke="#000" stroke-width="3.80" aria-hidden="true">1.4%</text><text transform="translate(373.71 394.00) scale(1.0230 1)" font-size="34.01" stroke="#fff" stroke-width="0.90">1.4%</text>
<text transform="translate(479.31 416.00) scale(1.1849 1)" font-size="34.01" stroke="#000" stroke-width="3.80" aria-hidden="true">0.9%</text><text transform="translate(479.31 416.00) scale(1.1849 1)" font-size="34.01" stroke="#fff" stroke-width="0.90">0.9%</text>
<text transform="translate(585.38 474.90) scale(0.9887 1)" font-size="34.01" stroke="#000" stroke-width="3.80" aria-hidden="true">1%</text><text transform="translate(585.38 474.90) scale(0.9887 1)" font-size="34.01" stroke="#fff" stroke-width="0.90">1%</text>
<text transform="translate(677.53 510.90) scale(1.1639 1)" font-size="34.01" stroke="#000" stroke-width="3.80" aria-hidden="true">2%</text><text transform="translate(677.53 510.90) scale(1.1639 1)" font-size="34.01" stroke="#fff" stroke-width="0.90">2%</text>
<text transform="translate(444.71 555.90) scale(1.1849 1)" font-size="34.01" stroke="#000" stroke-width="3.80" aria-hidden="true">0.8%</text><text transform="translate(444.71 555.90) scale(1.1849 1)" font-size="34.01" stroke="#fff" stroke-width="0.90">0.8%</text>
<text transform="translate(508.82 613.70) scale(0.9693 1)" font-size="34.01" stroke="#000" stroke-width="3.80" aria-hidden="true">1.7%</text><text transform="translate(508.82 613.70) scale(0.9693 1)" font-size="34.01" stroke="#fff" stroke-width="0.90">1.7%</text>
<text transform="translate(635.37 595.90) scale(1.0630 1)" font-size="28.78" stroke="#000" stroke-width="3.40" aria-hidden="true">1.8%</text><text transform="translate(635.37 595.90) scale(1.0630 1)" font-size="28.78" stroke="#fff" stroke-width="0.81">1.8%</text>
<text transform="translate(709.57 575.76) scale(1.0649 1)" font-size="24.88" stroke="#000" stroke-width="3.09" aria-hidden="true">1.8%</text><text transform="translate(709.57 575.76) scale(1.0649 1)" font-size="24.88" stroke="#fff" stroke-width="0.73">1.8%</text>
<text transform="translate(746.37 603.76) scale(1.0649 1)" font-size="24.88" stroke="#000" stroke-width="3.09" aria-hidden="true">1.6%</text><text transform="translate(746.37 603.76) scale(1.0649 1)" font-size="24.88" stroke="#fff" stroke-width="0.73">1.6%</text>
<text transform="translate(701.19 627.66) scale(0.9933 1)" font-size="24.88" stroke="#000" stroke-width="3.09" aria-hidden="true">1.7%</text><text transform="translate(701.19 627.66) scale(0.9933 1)" font-size="24.88" stroke="#fff" stroke-width="0.73">1.7%</text>
<text transform="translate(784.36 636.94) scale(1.0765 1)" font-size="16.11" stroke="#000" stroke-width="2.32" aria-hidden="true">1.3%</text><text transform="translate(784.36 636.94) scale(1.0765 1)" font-size="16.11" stroke="#fff" stroke-width="0.55">1.3%</text>
<text transform="translate(613.81 662.40) scale(1.0408 1)" font-size="28.78" stroke="#000" stroke-width="3.40" aria-hidden="true">1.5%</text><text transform="translate(613.81 662.40) scale(1.0408 1)" font-size="28.78" stroke="#fff" stroke-width="0.81">1.5%</text>
<text transform="translate(685.21 655.29) scale(1.2363 1)" font-size="17.42" style="font-weight:400" stroke="#000" stroke-width="3.01" aria-hidden="true">CDMX 2%</text><text transform="translate(685.21 655.29) scale(1.2363 1)" font-size="17.42" style="font-weight:400" stroke="#fff" stroke-width="1.10">CDMX 2%</text>
<text transform="translate(525.40 668.90) scale(1.0472 1)" font-size="28.78" stroke="#000" stroke-width="3.40" aria-hidden="true">1.9%</text><text transform="translate(525.40 668.90) scale(1.0472 1)" font-size="28.78" stroke="#fff" stroke-width="0.81">1.9%</text>
<text transform="translate(731.68 680.10) scale(1.0466 1)" font-size="21.51" stroke="#000" stroke-width="2.80" aria-hidden="true">1.9%</text><text transform="translate(731.68 680.10) scale(1.0466 1)" font-size="21.51" stroke="#fff" stroke-width="0.66">1.9%</text>
<text transform="translate(786.47 676.76) scale(1.0025 1)" font-size="24.88" stroke="#000" stroke-width="3.09" aria-hidden="true">1.7%</text><text transform="translate(786.47 676.76) scale(1.0025 1)" font-size="24.88" stroke="#fff" stroke-width="0.73">1.7%</text>
<text transform="translate(862.71 628.90) scale(1.0935 1)" font-size="34.01" stroke="#000" stroke-width="3.80" aria-hidden="true">2.7%</text><text transform="translate(862.71 628.90) scale(1.0935 1)" font-size="34.01" stroke="#fff" stroke-width="0.90">2.7%</text>
<text transform="translate(694.32 728.90) scale(1.1847 1)" font-size="34.01" stroke="#000" stroke-width="3.80" aria-hidden="true">8.6%</text><text transform="translate(694.32 728.90) scale(1.1847 1)" font-size="34.01" stroke="#fff" stroke-width="0.90">8.6%</text>
<text transform="translate(831.83 758.00) scale(1.1128 1)" font-size="34.01" stroke="#000" stroke-width="3.80" aria-hidden="true">4.7%</text><text transform="translate(831.83 758.00) scale(1.1128 1)" font-size="34.01" stroke="#fff" stroke-width="0.90">4.7%</text>
<text transform="translate(980.97 686.66) scale(1.0649 1)" font-size="24.88" stroke="#000" stroke-width="3.09" aria-hidden="true">1.6%</text><text transform="translate(980.97 686.66) scale(1.0649 1)" font-size="24.88" stroke="#fff" stroke-width="0.73">1.6%</text>
<text transform="translate(1025.35 772.80) scale(1.0018 1)" font-size="34.01" stroke="#000" stroke-width="3.80" aria-hidden="true">1%</text><text transform="translate(1025.35 772.80) scale(1.0018 1)" font-size="34.01" stroke="#fff" stroke-width="0.90">1%</text>
<text transform="translate(1093.62 653.70) scale(1.0007 1)" font-size="34.01" stroke="#000" stroke-width="3.80" aria-hidden="true">2.1%</text><text transform="translate(1093.62 653.70) scale(1.0007 1)" font-size="34.01" stroke="#fff" stroke-width="0.90">2.1%</text>
<text transform="translate(1132.30 577.60) scale(1.1563 1)" font-size="34.01" stroke="#000" stroke-width="3.80" aria-hidden="true">3%</text><text transform="translate(1132.30 577.60) scale(1.1563 1)" font-size="34.01" stroke="#fff" stroke-width="0.90">3%</text>
<text transform="translate(1173.43 615.60) scale(1.1611 1)" font-size="34.01" stroke="#000" stroke-width="3.80" aria-hidden="true">2.8%</text><text transform="translate(1173.43 615.60) scale(1.1611 1)" font-size="34.01" stroke="#fff" stroke-width="0.90">2.8%</text>
</g>
<text transform="translate(18.35 685.00) scale(1.0385 1)" font-size="67" fill="#fff" stroke="#fff" stroke-width="1.40">Población</text>
<text transform="translate(19.42 753.60) scale(1.0621 1)" font-size="67" fill="#43b078" stroke="#43b078" stroke-width="1.40">afromexicana</text>
<text transform="translate(18.32 823.10) scale(1.0594 1)" font-size="67" fill="#fff" stroke="#fff" stroke-width="1.40">por estado</text>
<text transform="translate(1143.48 46.10) scale(1.0838 1)" font-size="36.2" fill="#f2f2f2" stroke="#f2f2f2" stroke-width="1.20">El Clarín</text>
<text transform="translate(1214.29 78.70) scale(1.1180 1)" font-size="36.2" fill="#f2f2f2" stroke="#f2f2f2" stroke-width="1.20">Digital</text>
<text transform="translate(1237.39 820.10) scale(1.0140 1)" font-size="12.2" fill="#ececec" stroke="#ececec" stroke-width="0.20" style="font-weight:400">MAPCHART.NET</text>
<text transform="translate(1237.17 838.20) scale(1.0894 1)" font-size="12.2" fill="#ececec" stroke="#ececec" stroke-width="0.20" style="font-weight:400">INEGI 2020</text>
</svg>
</body>
</html>
